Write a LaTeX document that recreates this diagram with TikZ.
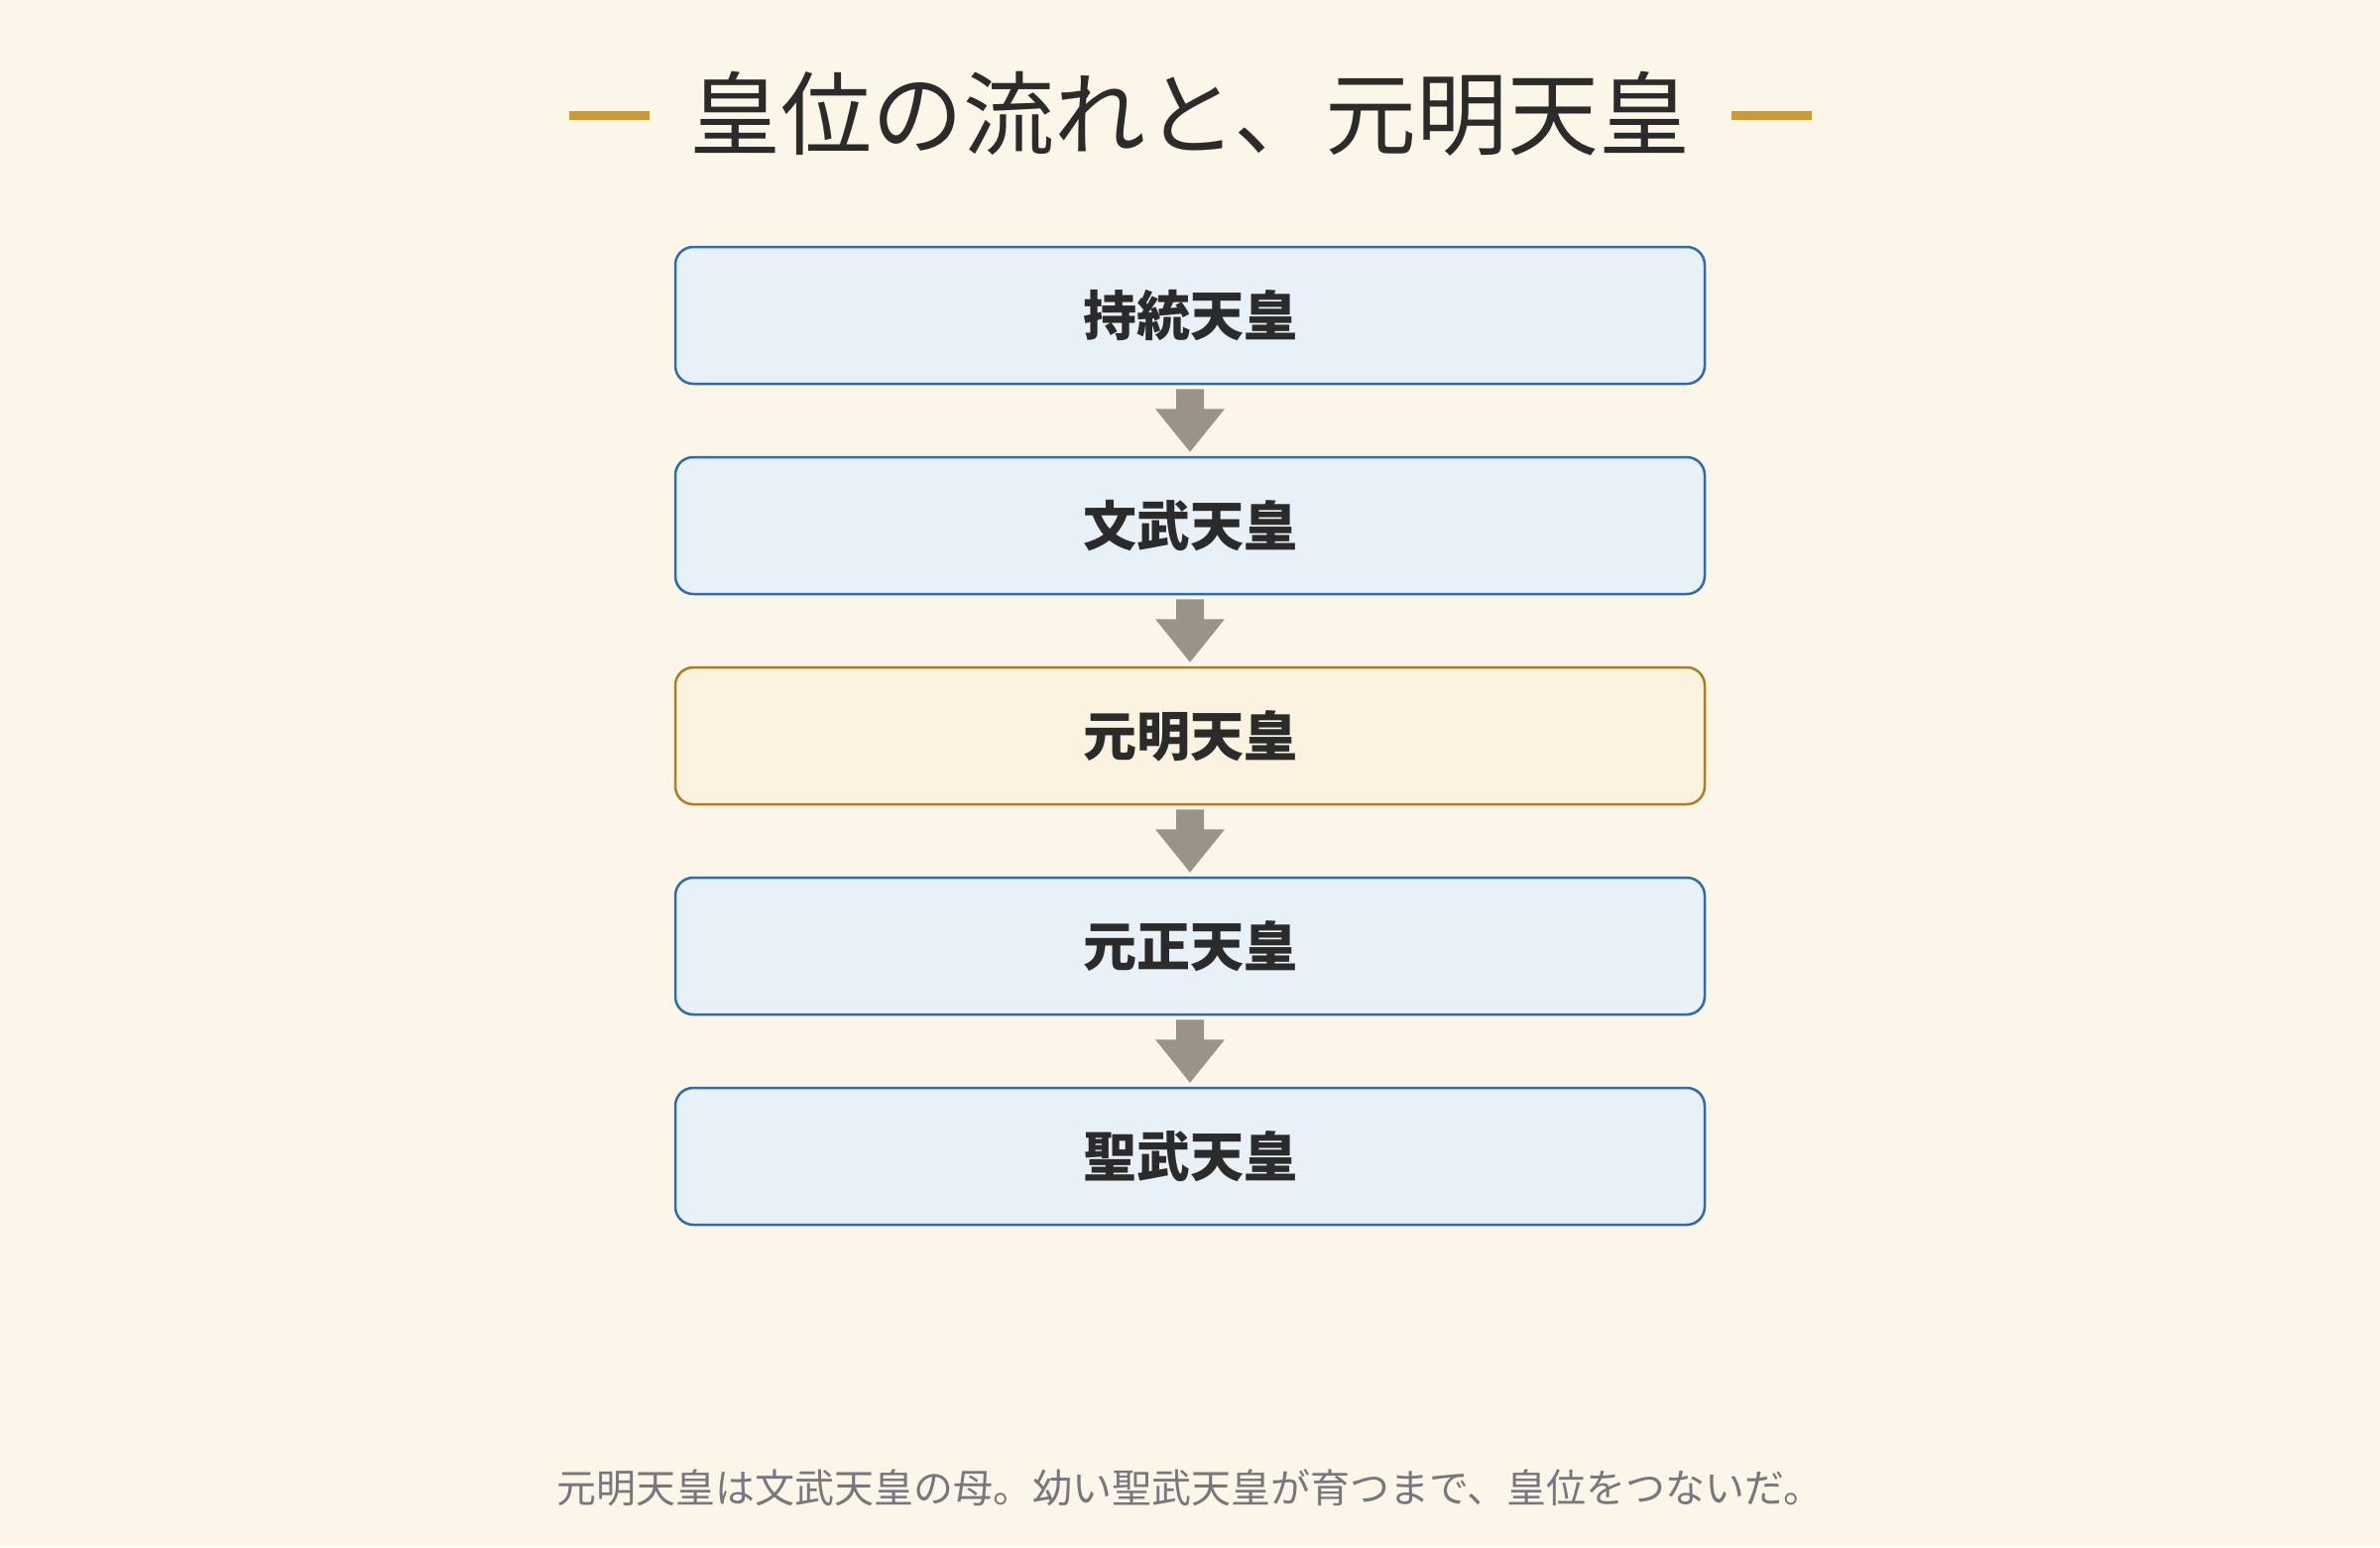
\documentclass[tikz,border=0pt]{standalone}
\usepackage{fontspec}
\newfontfamily\jp{Noto Sans CJK JP}
\usetikzlibrary{calc}
\definecolor{bgc}{HTML}{FCF6E8}
\definecolor{goldc}{HTML}{C9993A}
\definecolor{inkc}{HTML}{2B2B2B}
\definecolor{bluefill}{HTML}{E8F0F8}
\definecolor{blueline}{HTML}{2E6DA8}
\definecolor{hlfill}{HTML}{FBF3E0}
\definecolor{hlline}{HTML}{AE7E26}
\definecolor{arrowc}{HTML}{9A9387}
\definecolor{notec}{HTML}{77777F}
\tikzset{
  reign/.style={draw=blueline, fill=bluefill, line width=0.75pt, rounded corners=5.4pt,
    minimum width=311.4pt, minimum height=41.4pt, inner sep=0pt,
    font=\jp\bfseries\fontsize{16.2pt}{18pt}\selectfont, text=inkc},
  reignhl/.style={reign, draw=hlline, fill=hlfill},
  titletext/.style={font=\jp\fontsize{27.6pt}{30pt}\selectfont, text=inkc, inner sep=0pt},
  notetext/.style={font=\jp\fontsize{12pt}{14pt}\selectfont, text=notec, inner sep=0pt},
  golddash/.style={goldc, line width=2.7pt},
}
\newcommand{\flowarrow}[2]{%
  \fill[arrowc] ($(#1.south)+(-14,-4)$) -- ($(#1.south)+(14,-4)$) -- ($(#1.south)+(14,-24)$)
    -- ($(#1.south)+(35,-24)$) -- ($(#2.north)+(0,4)$) -- ($(#1.south)+(-35,-24)$)
    -- ($(#1.south)+(-14,-24)$) -- cycle;}
\begin{document}
\begin{tikzpicture}[x=0.3pt,y=0.3pt]
  \fill[bgc] (0,0) rectangle (2400,-1560);
  \useasboundingbox (0,0) rectangle (2400,-1560);
  % title
  \node[titletext] (title) at (1200,-115) {皇位の流れと、元明天皇};
  \coordinate (dl1) at (574,-116); \coordinate (dl2) at (655,-116);
  \coordinate (dr1) at (1746,-116); \coordinate (dr2) at (1827,-116);
  \draw[golddash] (dl1) -- (dl2);
  \draw[golddash] (dr1) -- (dr2);
  % boxes
  \node[reign]   (jito)   at (1200,-318)  {持統天皇};
  \node[reign]   (monmu)  at (1200,-530)  {文武天皇};
  \node[reignhl] (genmei) at (1200,-742)  {元明天皇};
  \node[reign]   (gensho) at (1200,-954)  {元正天皇};
  \node[reign]   (shomu)  at (1200,-1166) {聖武天皇};
  % arrows
  \flowarrow{jito}{monmu}
  \flowarrow{monmu}{genmei}
  \flowarrow{genmei}{gensho}
  \flowarrow{gensho}{shomu}
  % note
  \node[notetext] (note) at (1200,-1500) {元明天皇は文武天皇の母。幼い聖武天皇が育つまで、皇位をつないだ。};
\end{tikzpicture}
\end{document}
